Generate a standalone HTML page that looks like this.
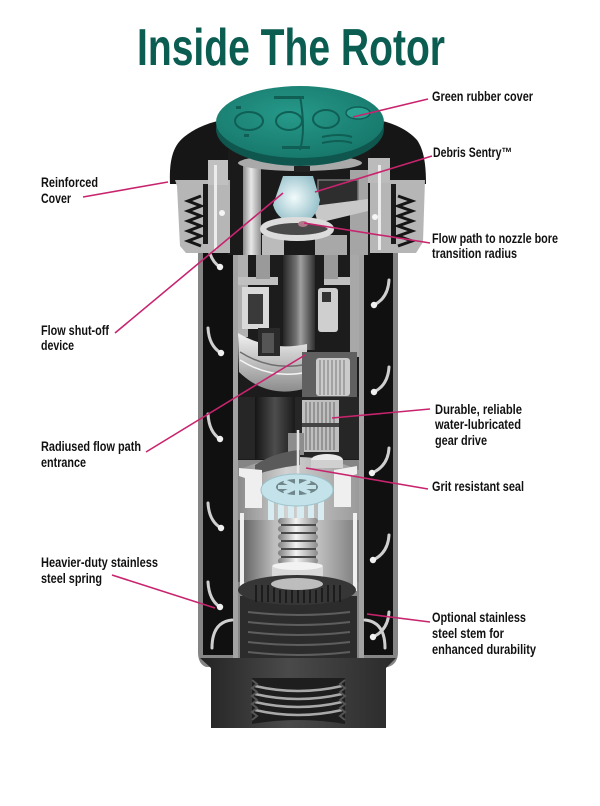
<!DOCTYPE html>
<html><head><meta charset="utf-8"><style>
html,body{margin:0;padding:0;background:#fff;}
svg{display:block;}
.l{font-family:"Liberation Sans Narrow","Liberation Sans",sans-serif;font-weight:bold;font-size:13.5px;fill:#111;}
</style></head><body>
<svg width="600" height="806" viewBox="0 0 600 806" xmlns="http://www.w3.org/2000/svg">
<defs>
<linearGradient id="gTube" x1="0" x2="1" y1="0" y2="0"><stop offset="0" stop-color="#262626"/><stop offset="0.4" stop-color="#6f6f6f"/><stop offset="0.55" stop-color="#a0a0a0"/><stop offset="1" stop-color="#2e2e2e"/></linearGradient>
<linearGradient id="gTube2" x1="0" x2="1" y1="0" y2="0"><stop offset="0" stop-color="#8a8a8a"/><stop offset="0.45" stop-color="#e8e8e8"/><stop offset="1" stop-color="#8f8f8f"/></linearGradient>
<linearGradient id="gCyl" x1="0" x2="1" y1="0" y2="0"><stop offset="0" stop-color="#151515"/><stop offset="0.5" stop-color="#4d4d4d"/><stop offset="1" stop-color="#1a1a1a"/></linearGradient>
<linearGradient id="gSpBg" x1="0" x2="1" y1="0" y2="0"><stop offset="0" stop-color="#555"/><stop offset="0.3" stop-color="#bdbdbd"/><stop offset="0.55" stop-color="#d6d6d6"/><stop offset="1" stop-color="#7a7a7a"/></linearGradient>
<linearGradient id="gSp" x1="0" x2="1" y1="0" y2="0"><stop offset="0" stop-color="#7d7d7d"/><stop offset="0.45" stop-color="#f2f2f2"/><stop offset="1" stop-color="#8a8a8a"/></linearGradient>
<linearGradient id="gFit" x1="0" x2="1" y1="0" y2="0"><stop offset="0" stop-color="#232323"/><stop offset="0.45" stop-color="#4a4a4a"/><stop offset="1" stop-color="#2a2a2a"/></linearGradient>
<linearGradient id="gBowl" x1="0" x2="0" y1="0" y2="1"><stop offset="0" stop-color="#f2f2f2"/><stop offset="1" stop-color="#8c8c8c"/></linearGradient>
<linearGradient id="gLow" x1="0" x2="1" y1="0" y2="0"><stop offset="0" stop-color="#8a8a8a"/><stop offset="0.4" stop-color="#d2d2d2"/><stop offset="1" stop-color="#9a9a9a"/></linearGradient>
<radialGradient id="gCover" cx="0.45" cy="0.4" r="0.6"><stop offset="0" stop-color="#26998a"/><stop offset="1" stop-color="#17796c"/></radialGradient>
<radialGradient id="gFun" cx="0.45" cy="0.45" r="0.6"><stop offset="0" stop-color="#f2fbfc"/><stop offset="1" stop-color="#8fbcc6"/></radialGradient>
</defs>
<rect width="600" height="806" fill="#fff"/>

<text x="137" y="65" font-family="'Liberation Sans Narrow','Liberation Sans',sans-serif" font-weight="bold" font-size="52" fill="#0b5c51" textLength="308" lengthAdjust="spacingAndGlyphs">Inside The Rotor</text>

<!-- BODY -->
<path d="M198,240 H398 V652 Q398,664 388,667 H206 Q198,664 198,652 Z" fill="#858585"/>
<rect x="203" y="245" width="30" height="410" fill="#101010"/>
<rect x="364" y="245" width="29" height="410" fill="#101010"/>
<rect x="233" y="245" width="5" height="420" fill="#a2a2a2"/>
<rect x="359" y="245" width="5" height="420" fill="#a2a2a2"/>
<!-- channel ribs -->
<g stroke="#cfcfcf" stroke-width="3" fill="none" stroke-linecap="round">
<path d="M208,242 Q209,260 220,267"/><path d="M208,328 Q209,346 221,353"/><path d="M208,414 Q209,432 220,439"/><path d="M208,503 Q209,521 221,528"/><path d="M208,582 Q209,600 220,607"/>
<path d="M389,280 Q388,298 374,305"/><path d="M389,367 Q388,385 374,392"/><path d="M389,448 Q388,466 372,473"/><path d="M389,535 Q388,553 373,560"/><path d="M389,612 Q388,630 373,637"/>
<path d="M232,620 Q212,622 212,648"/><path d="M365,620 Q385,622 385,648"/>
</g>
<g fill="#f0f0f0">
<circle cx="220" cy="267" r="3.2"/><circle cx="221" cy="353" r="3.2"/><circle cx="220" cy="439" r="3.2"/><circle cx="221" cy="528" r="3.2"/><circle cx="220" cy="607" r="3.2"/>
<circle cx="374" cy="305" r="3.2"/><circle cx="374" cy="392" r="3.2"/><circle cx="372" cy="473" r="3.2"/><circle cx="373" cy="560" r="3.2"/><circle cx="373" cy="637" r="3.2"/>
</g>

<!-- INTERIOR upper -->
<rect x="238" y="245" width="121" height="215" fill="#1c1c1c"/>
<rect x="238" y="245" width="10" height="92" fill="#b0b0b0"/>
<rect x="238" y="277" width="40" height="8" fill="#c0c0c0"/>
<rect x="242" y="287" width="27" height="42" fill="#d9d9d9"/>
<rect x="248" y="294" width="15" height="30" fill="#3a3a3a"/>
<rect x="256" y="245" width="14" height="34" fill="#9a9a9a"/>
<rect x="324" y="277" width="35" height="8" fill="#c0c0c0"/>
<rect x="350" y="245" width="9" height="112" fill="#a8a8a8"/>
<rect x="324" y="245" width="14" height="34" fill="#9a9a9a"/>
<rect x="283" y="232" width="32" height="118" fill="url(#gTube)"/>
<rect x="318" y="288" width="20" height="44" rx="3" fill="#cfcfcf"/>
<rect x="322" y="292" width="9" height="10" fill="#333"/>
<!-- turbine bowl -->
<path d="M238,333 Q270,352 307,344 L307,388 Q268,400 239,372 Z" fill="url(#gBowl)"/>
<path d="M240,352 Q272,372 307,364" stroke="#6e6e6e" stroke-width="1.5" fill="none"/>
<path d="M240,360 Q272,380 307,372" stroke="#f5f5f5" stroke-width="1.5" fill="none"/>
<rect x="258" y="328" width="22" height="28" fill="#2a2a2a"/>
<rect x="262" y="333" width="12" height="20" fill="#555"/>
<!-- right gear -->
<rect x="302" y="352" width="55" height="45" fill="#606060"/>
<rect x="316" y="358" width="34" height="38" rx="3" fill="#cbcbcb"/>
<g stroke="#7a7a7a" stroke-width="1"><line x1="320" y1="360" x2="320" y2="395"/><line x1="324" y1="360" x2="324" y2="395"/><line x1="328" y1="360" x2="328" y2="395"/><line x1="332" y1="360" x2="332" y2="395"/><line x1="336" y1="360" x2="336" y2="395"/><line x1="340" y1="360" x2="340" y2="395"/><line x1="344" y1="360" x2="344" y2="395"/></g>

<!-- lower middle -->
<rect x="238" y="397" width="121" height="62" fill="#262626"/>
<rect x="255" y="397" width="40" height="62" fill="url(#gCyl)"/>
<rect x="302" y="400" width="37" height="52" fill="#bfbfbf"/>
<g stroke="#6a6a6a" stroke-width="1"><line x1="306" y1="402" x2="306" y2="450"/><line x1="310" y1="402" x2="310" y2="450"/><line x1="314" y1="402" x2="314" y2="450"/><line x1="318" y1="402" x2="318" y2="450"/><line x1="322" y1="402" x2="322" y2="450"/><line x1="326" y1="402" x2="326" y2="450"/><line x1="330" y1="402" x2="330" y2="450"/><line x1="334" y1="402" x2="334" y2="450"/></g>
<rect x="302" y="423" width="37" height="4" fill="#444"/>
<rect x="288" y="433" width="16" height="22" fill="#8d8d8d"/>

<!-- lower bowl -->
<path d="M238,470 Q298,444 359,470 L359,530 L238,530 Z" fill="url(#gLow)"/>
<path d="M255,465 Q275,452 300,450 L300,465 Q275,468 255,475 Z" fill="#5a5a5a"/>
<ellipse cx="327" cy="460" rx="16" ry="6" fill="#eaeaea"/>
<rect x="311" y="460" width="32" height="8" fill="#d0d0d0"/>
<line x1="298" y1="430" x2="298" y2="520" stroke="#e5e5e5" stroke-width="2.5"/>
<path d="M239,468 L262,470 L262,508 L245,508 L245,478 L239,476 Z" fill="#efefef"/>
<path d="M357,466 L334,470 L334,507 L351,507 L351,476 L357,474 Z" fill="#efefef"/>
<!-- seal -->
<g fill="#d7ecf0"><rect x="268" y="498" width="6" height="22"/><rect x="278" y="500" width="6" height="22"/><rect x="288" y="501" width="6" height="22"/><rect x="298" y="501" width="6" height="22"/><rect x="308" y="501" width="6" height="22"/><rect x="318" y="500" width="6" height="22"/></g>
<ellipse cx="297" cy="490" rx="36" ry="16" fill="#c4e2e9" stroke="#9cc3cc" stroke-width="1"/>
<ellipse cx="297" cy="487" rx="21" ry="8" fill="#6f8589"/>
<g stroke="#c4e2e9" stroke-width="4"><line x1="297" y1="479" x2="297" y2="495"/><line x1="278" y1="487" x2="316" y2="487"/><line x1="284" y1="481" x2="310" y2="493"/><line x1="310" y1="481" x2="284" y2="493"/></g>

<!-- spring area -->
<rect x="238" y="520" width="121" height="62" fill="url(#gSpBg)"/>
<rect x="240" y="513" width="4" height="78" fill="#f0f0f0"/>
<rect x="353" y="513" width="4" height="78" fill="#f0f0f0"/>
<rect x="281" y="518" width="35" height="50" fill="#4a4a4a"/>
<g fill="url(#gSp)"><rect x="278" y="518" width="40" height="6" rx="3"/><rect x="278" y="526" width="40" height="6" rx="3"/><rect x="278" y="534" width="40" height="6" rx="3"/><rect x="278" y="542" width="40" height="6" rx="3"/><rect x="278" y="550" width="40" height="6" rx="3"/><rect x="278" y="558" width="40" height="6" rx="3"/></g>
<rect x="272" y="564" width="51" height="16" rx="3" fill="#d9d9d9"/>
<ellipse cx="297.5" cy="566" rx="25" ry="4" fill="#f2f2f2"/>

<!-- basket -->
<rect x="240" y="596" width="117" height="72" fill="#2c2c2c"/>
<ellipse cx="297" cy="590" rx="59" ry="15" fill="#363636"/>
<ellipse cx="297" cy="584" rx="26" ry="6" fill="#bdbdbd"/>
<g stroke="#141414" stroke-width="1.5"><line x1="256" y1="585" x2="256" y2="602"/><line x1="262" y1="585" x2="262" y2="602"/><line x1="268" y1="585" x2="268" y2="602"/><line x1="274" y1="588" x2="274" y2="602"/><line x1="280" y1="590" x2="280" y2="603"/><line x1="286" y1="590" x2="286" y2="603"/><line x1="292" y1="590" x2="292" y2="603"/><line x1="298" y1="590" x2="298" y2="603"/><line x1="304" y1="590" x2="304" y2="603"/><line x1="310" y1="590" x2="310" y2="603"/><line x1="316" y1="590" x2="316" y2="603"/><line x1="322" y1="588" x2="322" y2="602"/><line x1="328" y1="585" x2="328" y2="602"/><line x1="334" y1="585" x2="334" y2="602"/><line x1="340" y1="585" x2="340" y2="602"/></g>
<g stroke="#5e5e5e" stroke-width="2" fill="none"><path d="M248,612 Q298,618 350,612"/><path d="M248,622 Q298,628 350,622"/><path d="M248,632 Q298,638 350,632"/><path d="M248,642 Q298,648 350,642"/><path d="M248,652 Q298,658 350,652"/><path d="M248,662 Q298,668 350,662"/></g>

<!-- bottom fitting -->
<path d="M200,658 H396 L386,668 V728 H211 V668 Z" fill="url(#gFit)"/>
<path d="M252,678 H345 V724 Q298,716 252,724 Z" fill="#1e1e1e"/>
<g stroke="#a8a8a8" stroke-width="2.5" fill="none"><path d="M255,686 Q298,696 342,686"/><path d="M255,694 Q298,704 342,694"/><path d="M255,702 Q298,712 342,702"/><path d="M255,710 Q298,720 342,710"/></g>
<g stroke="#555" stroke-width="2" fill="none"><path d="M252,680 l5,4 l-5,4 l5,4 l-5,4 l5,4 l-5,4 l5,4 l-5,4 l5,4 l-5,4"/><path d="M345,680 l-5,4 l5,4 l-5,4 l5,4 l-5,4 l5,4 l-5,4 l5,4 l-5,4 l5,4"/></g>

<!-- CAP -->
<path d="M170,184 C169,160 173,146 184,137 C195,128 208,123 222,120 L378,120 C394,123 408,130 417,140 C424,150 426,165 426,184 Z" fill="#161616"/>
<rect x="228" y="150" width="142" height="105" fill="#1a1a1a"/>
<path d="M175,180 L230,180 L230,253 L186,253 L180,246 L177,186 Z" fill="#b6b6b6"/>
<rect x="208" y="160" width="20" height="25" fill="#c0c0c0"/>
<rect x="203" y="184" width="5" height="60" fill="#1a1a1a"/>
<rect x="214" y="165" width="3" height="85" fill="#ececec"/>
<polyline points="201,196 188,201 201,206 188,211 201,216 188,221 201,226 188,231 201,236 188,241 201,246" fill="none" stroke="#151515" stroke-width="3"/>
<path d="M370,180 L425,180 L423,242 L416,253 L370,253 Z" fill="#b6b6b6"/>
<rect x="368" y="158" width="22" height="25" fill="#bbbbbb"/>
<rect x="391" y="184" width="5" height="60" fill="#1a1a1a"/>
<rect x="378" y="165" width="3" height="85" fill="#ececec"/>
<polyline points="398,196 412,201 398,206 412,211 398,216 412,221 398,226 412,231 398,236 412,241 398,246" fill="none" stroke="#151515" stroke-width="3"/>
<circle cx="222" cy="213" r="3" fill="#f5f5f5"/><circle cx="375" cy="217" r="3" fill="#f5f5f5"/>
<rect x="243" y="160" width="18" height="95" fill="url(#gTube2)"/>
<rect x="350" y="170" width="18" height="85" fill="#a5a5a5"/>
<rect x="318" y="180" width="40" height="30" fill="#2e2e2e" stroke="#777" stroke-width="1.5"/>
<polygon points="313,206 368,199 368,211 318,223" fill="#c8c8c8"/>
<rect x="262" y="235" width="22" height="20" fill="#bbbbbb"/>
<rect x="315" y="235" width="32" height="20" fill="#a8a8a8"/>
<ellipse cx="300" cy="163" rx="62" ry="8" fill="#a9a9a9"/>
<rect x="294" y="166" width="16" height="6" fill="#222"/>
<path d="M283,176 L313,176 L320,200 Q316,222 298,224 Q278,222 273,205 Z" fill="url(#gFun)"/>
<ellipse cx="297" cy="229" rx="34" ry="9" fill="#4a4a4a" stroke="#dcdcdc" stroke-width="6"/>
<ellipse cx="303" cy="224" rx="5" ry="3" fill="#b07a8a"/>

<!-- cover -->
<ellipse cx="300" cy="129" rx="84" ry="37" fill="#0e564e"/>
<ellipse cx="300" cy="122" rx="84" ry="36" fill="url(#gCover)"/>
<g fill="none" stroke="#0f5f55" stroke-width="2">
<ellipse cx="249" cy="121" rx="14" ry="9"/><ellipse cx="289" cy="121" rx="13" ry="9"/><ellipse cx="326" cy="119" rx="13" ry="9"/>
<path d="M300,96 Q306,130 300,150"/><path d="M322,137 Q340,133 352,137"/><path d="M322,143 Q340,139 352,143"/>
</g>
<ellipse cx="358" cy="113" rx="12" ry="6" fill="#2aa393" stroke="#0f5f55" stroke-width="1.5"/>
<g fill="#0f5f55"><rect x="274" y="96" width="30" height="3"/><rect x="282" y="146" width="28" height="3"/><rect x="236" y="106" width="5" height="3"/><rect x="244" y="134" width="5" height="3"/></g>

<!-- LEADERS -->
<g stroke="#c8246e" stroke-width="1.6" fill="none">
<line x1="83" y1="197" x2="168" y2="182"/>
<line x1="115" y1="333" x2="283" y2="193"/>
<line x1="146" y1="452" x2="305" y2="355"/>
<line x1="112" y1="575" x2="215" y2="608"/>
<line x1="428" y1="99" x2="353" y2="117"/>
<line x1="432" y1="156" x2="315" y2="192"/>
<line x1="430" y1="243" x2="304" y2="223"/>
<line x1="430" y1="409" x2="332" y2="418"/>
<line x1="428" y1="489" x2="306" y2="468"/>
<line x1="430" y1="622" x2="367" y2="614"/>
</g>

<!-- LABELS -->
<g class="l">
<text class="l" x="41" y="187" textLength="57" lengthAdjust="spacingAndGlyphs">Reinforced</text>
<text class="l" x="41" y="203" textLength="30" lengthAdjust="spacingAndGlyphs">Cover</text>
<text class="l" x="41" y="335" textLength="68" lengthAdjust="spacingAndGlyphs">Flow shut-off</text>
<text class="l" x="41" y="350" textLength="33" lengthAdjust="spacingAndGlyphs">device</text>
<text class="l" x="41" y="451" textLength="100" lengthAdjust="spacingAndGlyphs">Radiused flow path</text>
<text class="l" x="41" y="467" textLength="45" lengthAdjust="spacingAndGlyphs">entrance</text>
<text class="l" x="41" y="567" textLength="117" lengthAdjust="spacingAndGlyphs">Heavier-duty stainless</text>
<text class="l" x="41" y="583" textLength="61" lengthAdjust="spacingAndGlyphs">steel spring</text>
<text class="l" x="432" y="101" textLength="101" lengthAdjust="spacingAndGlyphs">Green rubber cover</text>
<text class="l" x="433" y="157" textLength="79" lengthAdjust="spacingAndGlyphs">Debris Sentry™</text>
<text class="l" x="432" y="243" textLength="126" lengthAdjust="spacingAndGlyphs">Flow path to nozzle bore</text>
<text class="l" x="432" y="258" textLength="85" lengthAdjust="spacingAndGlyphs">transition radius</text>
<text class="l" x="435" y="414" textLength="87" lengthAdjust="spacingAndGlyphs">Durable, reliable</text>
<text class="l" x="435" y="429" textLength="86" lengthAdjust="spacingAndGlyphs">water-lubricated</text>
<text class="l" x="435" y="445" textLength="52" lengthAdjust="spacingAndGlyphs">gear drive</text>
<text class="l" x="432" y="491" textLength="92" lengthAdjust="spacingAndGlyphs">Grit resistant seal</text>
<text class="l" x="432" y="622" textLength="94" lengthAdjust="spacingAndGlyphs">Optional stainless</text>
<text class="l" x="432" y="638" textLength="72" lengthAdjust="spacingAndGlyphs">steel stem for</text>
<text class="l" x="432" y="654" textLength="104" lengthAdjust="spacingAndGlyphs">enhanced durability</text>
</g>
</svg>
</body></html>
